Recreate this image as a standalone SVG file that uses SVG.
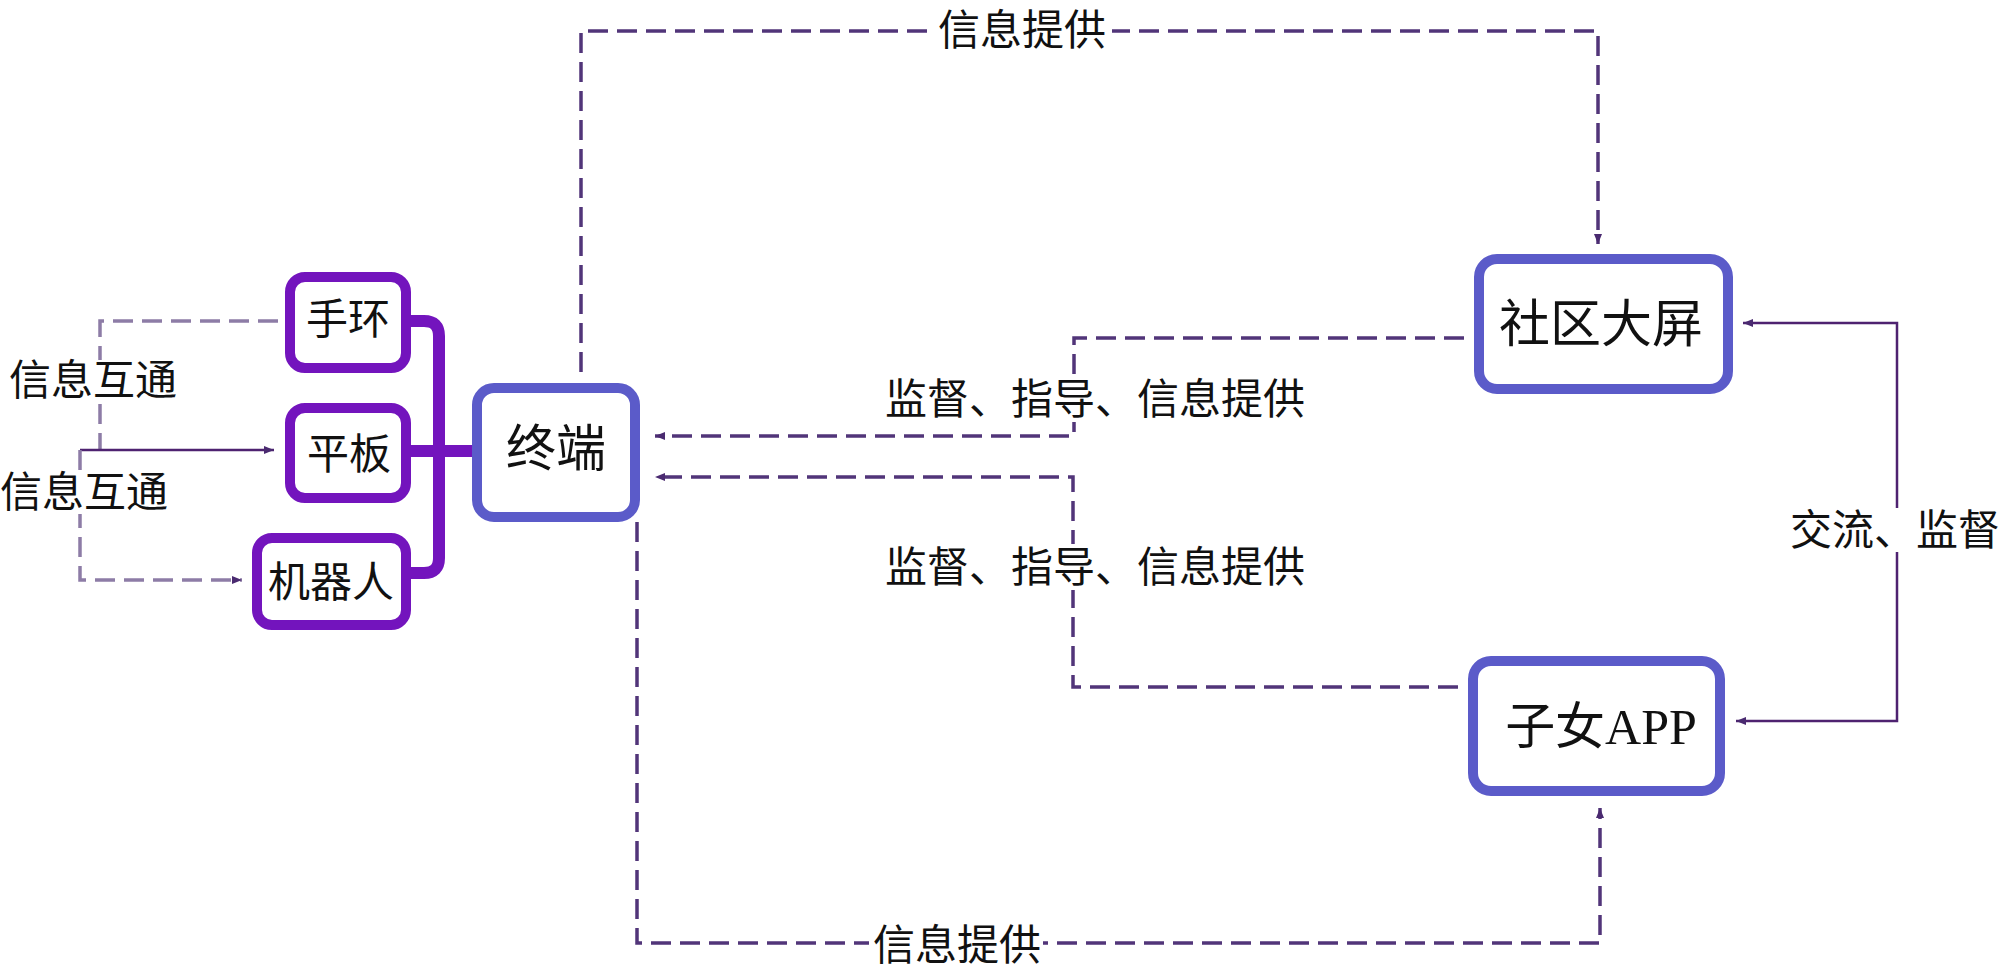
<svg xmlns="http://www.w3.org/2000/svg" width="2000" height="971" viewBox="0 0 2000 971">
<defs>
<style>
.pbox{fill:#fff;stroke:#7314bd;stroke-width:10}
.bbox{fill:#fff;stroke:#5b5bc9;stroke-width:10}
.t{font-family:"Liberation Serif","Noto Sans CJK SC",serif;fill:#111}
.lbl{font-family:"Noto Sans CJK SC",sans-serif;font-size:42px;fill:#111}
.dash{fill:none;stroke:#513579;stroke-width:3.5;stroke-dasharray:20 9}
.ldash{fill:none;stroke:#8d7ca6;stroke-width:3.5;stroke-dasharray:20 9}
.thin{fill:none;stroke:#4e2270;stroke-width:2.5}
.bracket{fill:none;stroke:#7314bd;stroke-width:12}
.bg{fill:#fff}
</style>
<marker id="arr" viewBox="0 0 10 8" refX="10" refY="4" markerWidth="10" markerHeight="8" markerUnits="userSpaceOnUse" orient="auto-start-reverse">
<path d="M0,0 L10,4 L0,8 z" fill="#4a2a70"/>
</marker>
</defs>

<g id="connectors">
<path class="bracket" d="M411 321 H424 Q439 321 439 336 V558 Q439 573 424 573 H411"/>
<path class="bracket" d="M411 451 H474"/>
<path class="ldash" d="M278 321 H100 V450"/>
<path class="thin" d="M80 450 H274" marker-end="url(#arr)" stroke="#6a4a94"/>
<path class="ldash" d="M80 450 V580 H242" marker-end="url(#arr)"/>
<path class="dash" d="M581 372 V31 H1598 V244" marker-end="url(#arr)"/>
<path class="dash" d="M1464 338 H1074 V436 H655" marker-end="url(#arr)"/>
<path class="dash" d="M1458 687 H1073 V477 H655" marker-end="url(#arr)"/>
<path class="dash" d="M637 522 V943 H1600 V808" marker-end="url(#arr)"/>
<path class="thin" d="M1743 323 H1897 V721 H1736" marker-start="url(#arr)" marker-end="url(#arr)"/>
</g>

<g id="labels">
<rect class="bg" x="934" y="8" width="178" height="44"/>
<text class="lbl" x="938" y="45">信息提供</text>
<rect class="bg" x="869" y="922" width="174" height="44"/>
<text class="lbl" x="873" y="960">信息提供</text>
<rect class="bg" x="882" y="376" width="430" height="46"/>
<text class="lbl" x="885" y="414">监督、指导、信息提供</text>
<rect class="bg" x="882" y="544" width="430" height="46"/>
<text class="lbl" x="885" y="582">监督、指导、信息提供</text>
<rect class="bg" x="1788" y="508" width="212" height="44"/>
<text class="lbl" x="1790" y="545">交流、监督</text>
<rect class="bg" x="6" y="360" width="176" height="42"/>
<text class="lbl" x="9" y="395">信息互通</text>
<rect class="bg" x="0" y="472" width="172" height="42"/>
<text class="lbl" x="0" y="507">信息互通</text>
</g>

<g id="node-shouhuan">
<rect class="pbox" x="290" y="277" width="116" height="91" rx="15"/>
<text class="t" x="348" y="334" font-size="42" text-anchor="middle">手环</text>
</g>
<g id="node-pingban">
<rect class="pbox" x="290" y="408" width="116" height="90" rx="15"/>
<text class="t" x="349" y="469" font-size="42" text-anchor="middle">平板</text>
</g>
<g id="node-jiqiren">
<rect class="pbox" x="257" y="538" width="149" height="87" rx="15"/>
<text class="t" x="331" y="597" font-size="42" text-anchor="middle">机器人</text>
</g>
<g id="node-zhongduan">
<rect class="bbox" x="477" y="388" width="158" height="129" rx="17"/>
<text class="t" x="556" y="466" font-size="50" text-anchor="middle">终端</text>
</g>
<g id="node-shequdaping">
<rect class="bbox" x="1479" y="259" width="249" height="130" rx="18"/>
<text class="t" x="1601" y="342" font-size="51" text-anchor="middle">社区大屏</text>
</g>
<g id="node-zinvapp">
<rect class="bbox" x="1473" y="661" width="247" height="130" rx="18"/>
<text class="t" x="1601" y="744" font-size="50" text-anchor="middle">子女APP</text>
</g>
</svg>
